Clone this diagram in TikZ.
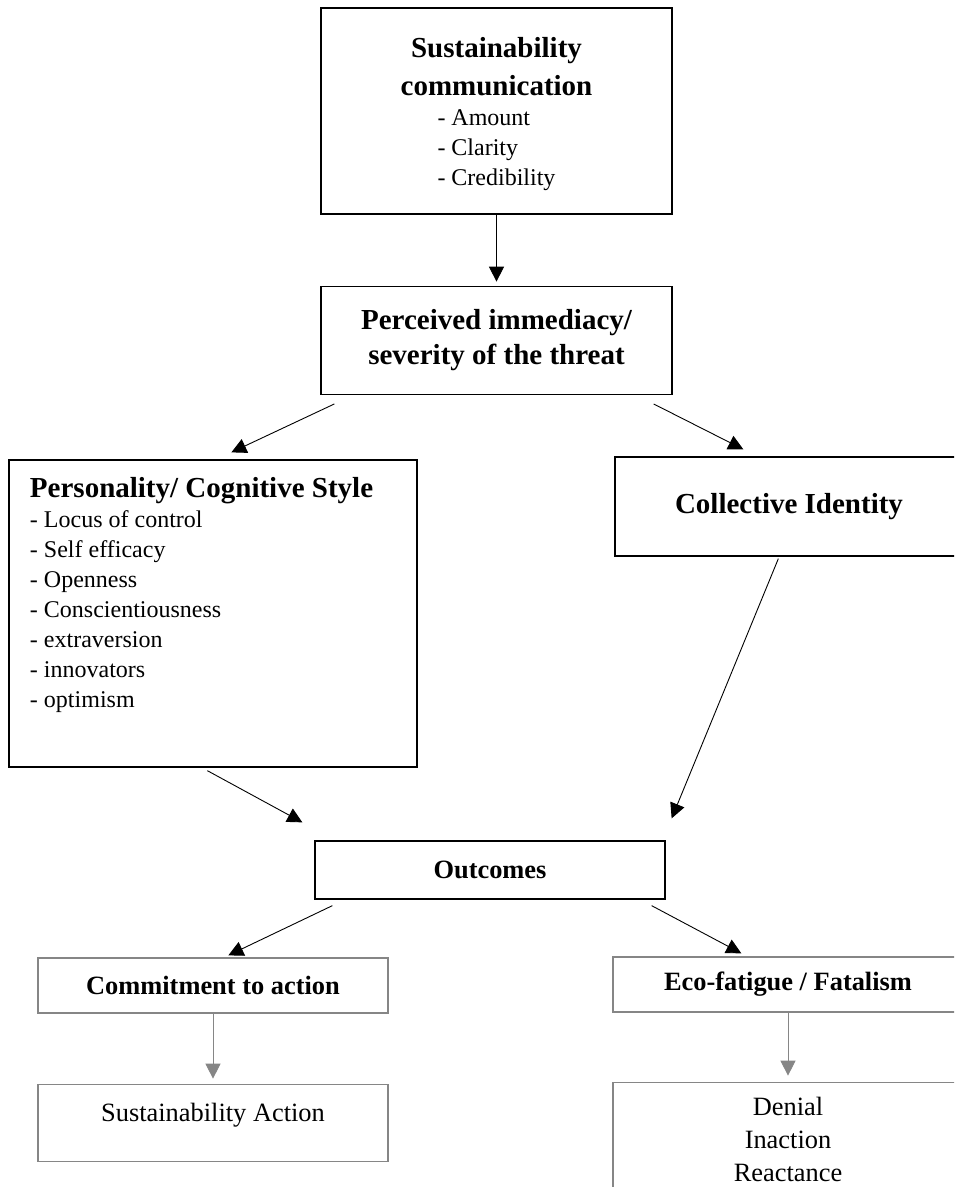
\documentclass[tikz,border=0pt]{standalone}
\usepackage{fontspec}
\setmainfont{Liberation Serif}
\usetikzlibrary{arrows.meta,positioning}

\definecolor{boxgrey}{HTML}{868686}
\newcommand{\headfont}{\fontsize{29}{35}\selectfont\bfseries}
\newcommand{\itemfont}{\fontsize{24}{30}\selectfont}
\newcommand{\lowhead}{\fontsize{26.4}{33}\selectfont\bfseries}
\newcommand{\lowtext}{\fontsize{26.4}{33}\selectfont}

\begin{document}
\begin{tikzpicture}[
    x=1pt, y=-1pt,
    box/.style={rectangle, draw, line width=1.3pt, inner sep=4pt},
    greybox/.style={box, draw=boxgrey},
    arrow/.style={-{Triangle[length=15pt, width=15pt]}, line width=0.9pt},
    greyarrow/.style={arrow, draw=boxgrey}
]
    \useasboundingbox (0,0) rectangle (954,1187);
    \clip (0,0) rectangle (954,1187);

    % Upper boxes
    \node[box, minimum width=351pt, minimum height=206pt] (comm) at (496.5,111)
        {\parbox{330pt}{\centering\vspace*{9pt}%
        \fontsize{29}{38}\selectfont\bfseries Sustainability\\ communication\par
        \itemfont\mdseries\begin{tabular}[t]{@{}l@{}}- Amount\\ - Clarity\\ - Credibility\end{tabular}\par}};
    \node[box, minimum width=351pt, minimum height=108pt, below=71pt of comm] (perc)
        {\parbox{340pt}{\centering\headfont Perceived immediacy/\\ severity of the threat}};
    \node[box, inner xsep=21pt, inner ysep=0pt, minimum width=408pt, minimum height=307pt] (pers) at (213,613.5)
        {\parbox[c][307pt][t]{366pt}{\vspace*{17pt}\raggedright
        {\headfont Personality/ Cognitive Style\par}
        \itemfont - Locus of control\\ - Self efficacy\\ - Openness\\ - Conscientiousness\\
        - extraversion\\ - innovators\\ - optimism\par}};
    \node[box, minimum width=348pt, minimum height=99pt, font=\headfont] (coll) at (789,506.5) {Collective Identity};

    % Outcomes
    \node[box, minimum width=350pt, minimum height=58pt, font=\lowhead] (outc) at (490,870) {Outcomes};
    \node[greybox, minimum width=350pt, minimum height=55pt, font=\lowhead] (commit) at (213,985.5) {Commitment to action};
    \node[greybox, minimum width=350pt, minimum height=55pt, font=\lowhead] (eco) at (788,984.5) {Eco-fatigue / Fatalism};
    \node[greybox, minimum width=350pt, minimum height=77pt, font=\lowtext, text depth=21pt, below=70pt of commit] (sust) {Sustainability Action};
    \node[greybox, minimum width=350pt, minimum height=115pt, below=69pt of eco] (deny)
        {\parbox{300pt}{\centering\lowtext Denial\\ Inaction\\ Reactance}};

    % Arrows
    \draw[arrow, shorten >=4pt] (comm) -- (perc);
    \draw[arrow] ([shift={(14,9)}]perc.south west) -- ([shift={(223,-7)}]pers.north west);
    \draw[arrow] ([shift={(-19,9)}]perc.south east) -- ([shift={(129,-7)}]coll.north west);
    \draw[arrow] ([shift={(199,3)}]pers.south west) -- ([shift={(-12,-18)}]outc.north west);
    \draw[arrow] ([shift={(164,2)}]coll.south west) -- ([shift={(6,-22)}]outc.north east);
    \draw[arrow] ([shift={(18,6)}]outc.south west) -- ([shift={(191,-2)}]commit.north west);
    \draw[arrow] ([shift={(-14,6)}]outc.south east) -- ([shift={(129,-3)}]eco.north west);
    \draw[greyarrow, shorten >=5pt] (commit) -- (sust);
    \draw[greyarrow, shorten >=6pt] (eco) -- (deny);
\end{tikzpicture}
\end{document}
